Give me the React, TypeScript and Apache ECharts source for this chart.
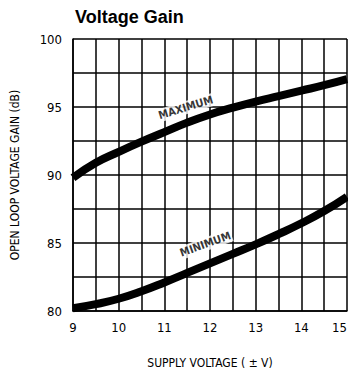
import React, { useEffect, useRef } from "react";
import * as echarts from "echarts";

const supplyVoltage = [9, 9.5, 10, 10.5, 11, 11.5, 12, 12.5, 13, 13.5, 14, 14.5, 15];
const maximumGain = [89.8, 90.9, 91.7, 92.45, 93.15, 93.85, 94.45, 94.95, 95.4, 95.8, 96.2, 96.6, 97.05];
const minimumGain = [80.2, 80.5, 80.9, 81.45, 82.1, 82.8, 83.5, 84.2, 84.9, 85.65, 86.45, 87.35, 88.4];
const curveLabels = [
  { name: "MAXIMUM", x: 11.47, y: 94.95, angle: 17 },
  { name: "MINIMUM", x: 11.9, y: 84.9, angle: 20 },
];
const title = "Voltage Gain";
const xAxisName = "SUPPLY VOLTAGE ( \u00b1 V)";
const yAxisName = "OPEN LOOP VOLTAGE GAIN (dB)";

const narrow = "'Liberation Sans Narrow', 'DejaVu Sans Condensed', 'Liberation Sans', sans-serif";

export default function App() {
  const ref = useRef<HTMLDivElement>(null);
  useEffect(() => {
    if (!ref.current) return;
    const chart = echarts.init(ref.current, undefined, { renderer: "svg" });
    chart.setOption({
      animation: false,
      backgroundColor: "#fff",
      title: {
        text: title,
        left: 70,
        top: 3,
        textStyle: { fontSize: 18, fontWeight: "bold", color: "#000", fontFamily: "'Liberation Sans', Arial, sans-serif" },
      },
      grid: { left: 73, top: 39, width: 274, height: 272, containLabel: false, outerBoundsMode: "none" },
      xAxis: {
        type: "value",
        min: 9,
        max: 15,
        interval: 0.5,
        name: xAxisName,
        nameLocation: "middle",
        nameGap: 46,
        nameTextStyle: { fontFamily: narrow, fontSize: 12, color: "#000" },
        axisLine: { show: true, lineStyle: { color: "#000", width: 1.5 } },
        axisTick: { show: false },
        axisLabel: {
          margin: 10,
          fontFamily: narrow,
          fontSize: 13,
          color: "#000",
          alignMaxLabel: "right",
          formatter: (v: number) => (Number.isInteger(v) ? String(v) : ""),
        },
        splitLine: { show: true, lineStyle: { color: "#000", width: 1.5 } },
      },
      yAxis: {
        type: "value",
        min: 80,
        max: 100,
        interval: 2.5,
        name: yAxisName,
        nameLocation: "middle",
        nameGap: 52,
        nameTextStyle: { fontFamily: narrow, fontSize: 12, color: "#000" },
        axisLine: { show: true, lineStyle: { color: "#000", width: 1.5 } },
        axisTick: { show: false },
        axisLabel: {
          margin: 11,
          fontFamily: narrow,
          fontSize: 13,
          color: "#000",
          formatter: (v: number) => (v % 5 === 0 ? String(v) : ""),
        },
        splitLine: { show: true, lineStyle: { color: "#000", width: 1.5 } },
      },
      series: [
        {
          type: "line",
          name: "MAXIMUM",
          smooth: true,
          showSymbol: false,
          lineStyle: { color: "#000", width: 8 },
          data: supplyVoltage.map((x, i) => [x, maximumGain[i]]),
          z: 3,
        },
        {
          type: "line",
          name: "MINIMUM",
          smooth: true,
          showSymbol: false,
          lineStyle: { color: "#000", width: 8 },
          data: supplyVoltage.map((x, i) => [x, minimumGain[i]]),
          z: 3,
        },
        {
          type: "scatter",
          symbolSize: 0,
          z: 5,
          data: curveLabels.map((l) => ({
            value: [l.x, l.y],
            label: {
              show: true,
              position: "inside",
              formatter: l.name,
              rotate: l.angle,
              fontFamily: narrow,
              fontWeight: "bold",
              fontSize: 11,
              color: "#000",
              backgroundColor: "#fff",
              padding: [1, 1],
            },
          })),
        },
      ],
    });
    return () => chart.dispose();
  }, []);
  return (
    <div
      ref={ref}
      style={{ position: "fixed", left: 0, top: 0, width: 348, height: 374 }}
    />
  );
}
